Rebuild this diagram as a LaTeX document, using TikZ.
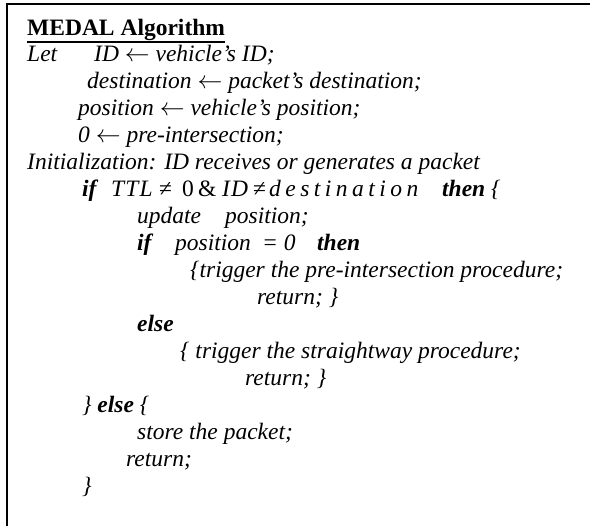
\documentclass[tikz,border=0pt]{standalone}
\usepackage{fontspec}
\setmainfont{Liberation Serif}
\newcommand{\sz}{\fontsize{23.5}{27}\selectfont}
\newcommand{\lar}{$\leftarrow$}
\begin{document}
\begin{tikzpicture}[x=1pt,y=-1pt,
  base/.style={anchor=base west, inner sep=0pt, font=\sz\itshape},
  kw/.style={anchor=base west, inner sep=0pt, font=\sz\bfseries\itshape},
  up/.style={anchor=base west, inner sep=0pt, font=\sz},
  eqv/.style={anchor=base west, inner sep=0pt, font=\sz\itshape\addfontfeatures{LetterSpace=19}},
  eqs/.style={anchor=base west, inner sep=0pt, font=\sz\itshape\addfontfeatures{LetterSpace=5}},
  ttlstyle/.style={anchor=base west, inner sep=0pt, font=\sz\bfseries},
  frame/.style={line width=2pt}]
\useasboundingbox (0,0) rectangle (590,526);
\fill[white] (0,0) rectangle (590,526);
\draw[frame] (7,526) -- (7,4) -- (590,4);
% title
\node[ttlstyle] (title) at (27,36) {MEDAL Algorithm};
\draw[line width=2pt] ([yshift=-6pt]title.base west) -- ([yshift=-6pt]title.base east);
% let block
\node[base] (let) at (27,62) {Let};
\node[base] (id) at (94,62) {ID \lar\ vehicle’s ID;};
\node[base] (dest) at (87,89) {destination \lar\ packet’s destination;};
\node[base] (pos) at (78,116) {position \lar\ vehicle’s position;};
\node[base] (zero) at (78,143) {0 \lar\ pre-intersection;};
\node[base] (init) at (27,170) {Initialization: ID receives or generates a packet};
% if line
\node[kw] (if1) at (82,197) {if};
\node[eqs] (ttl) at (111,197) {TTL};
\node[up] (ne1) at (159,197) {≠};
\node[up] (zeroa) at (182,197) {0};
\node[up] (amp) at (198,197) {\&};
\node[eqs] (idv) at (222,197) {ID};
\node[up] (ne2) at (253,197) {≠};
\node[eqv] (destv) at (269,197) {destination};
\node[kw] (then1) at (442,197) {then \textmd{\{}};
% inner
\node[base] (upd) at (137,224) {update};
\node[base] (upos) at (225,224) {position;};
\node[kw] (if2) at (137,251) {if};
\node[base] (ipos) at (175,251) {position};
\node[base] (ieq) at (262,251) {= 0};
\node[kw] (then2) at (317,251) {then};
\node[base] (trig1) at (190,278) {\{trigger the pre-intersection procedure;};
\node[base] (ret1) at (257,305) {return; \}};
\node[kw] (else1) at (137,332) {else};
\node[base] (trig2) at (180,359) {\{ trigger the straightway procedure;};
\node[base] (ret2) at (245,386) {return; \}};
\node[base] (else2) at (82,413) {\} \textbf{else} \{};
\node[base] (store) at (137,440) {store the packet;};
\node[base] (ret3) at (126,467) {return;};
\node[base] (close) at (82,494) {\}};
\end{tikzpicture}
\end{document}
